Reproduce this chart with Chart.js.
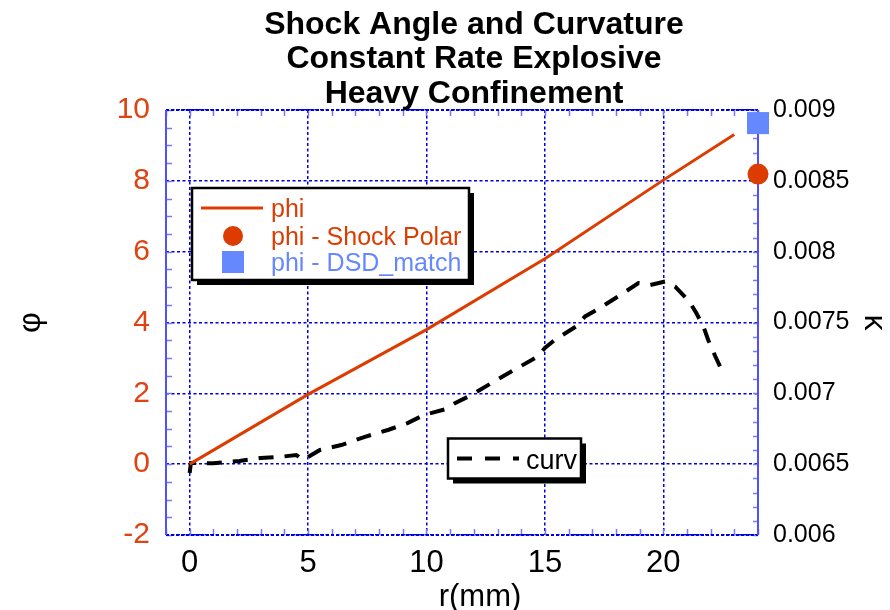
<!DOCTYPE html>
<html>
<head>
<meta charset="utf-8">
<title>Shock Angle and Curvature</title>
<script src="https://cdn.jsdelivr.net/npm/chart.js@4.4.1/dist/chart.umd.min.js"></script>
<style>
  html, body { margin: 0; padding: 0; background: #fff; }
  #wrap { position: relative; width: 890px; height: 610px; }
</style>
</head>
<body>
<div id="wrap"><canvas id="chart"></canvas></div>
<script>
// shock angle phi along the front, r in mm
const phiR = [0, 5, 10, 15, 20, 23.0];
const phiValues = [0, 1.97, 3.8, 5.8, 8.02, 9.31];

// single values at the charge edge
const polarR = [24];
const polarPhi = [8.19];
const dsdR = [24];
const dsdPhi = [9.63];

// front curvature kappa (right axis)
const curvR = [0, 0.05, 1.0, 2.1, 3.0, 3.9, 4.5, 4.8, 5.5, 6.4, 7.4, 8.4, 9.2, 9.9,
  10.8, 11.2, 11.9, 12.75, 13.7, 14.7, 15.0, 15.4, 16.3, 16.7, 17.3, 18.2, 18.95,
  19.45, 20.1, 20.5, 21.1, 21.4, 21.7, 21.9, 22.2, 22.4];
const curvValues = [0.006438, 0.006508, 0.006506, 0.006523, 0.006543, 0.006553,
  0.006565, 0.00653, 0.0066, 0.006635, 0.006693, 0.006743, 0.00679, 0.006848,
  0.006888, 0.00693, 0.006988, 0.007073, 0.007165, 0.00726, 0.00732, 0.007375,
  0.00747, 0.007543, 0.0076, 0.007695, 0.007778, 0.007765, 0.00779, 0.007753,
  0.007648, 0.007565, 0.00747, 0.007375, 0.00726, 0.007188];

const titleLines = ['Shock Angle and Curvature', 'Constant Rate Explosive', 'Heavy Confinement'];
const xTicks = [0, 5, 10, 15, 20];
const phiTicks = [-2, 0, 2, 4, 6, 8, 10];
const kappaTicks = [0.006, 0.0065, 0.007, 0.0075, 0.008, 0.0085, 0.009];

const FONT = "'Liberation Sans', Arial, Helvetica, sans-serif";
const PHI_COLOR = '#dc3c00';
const PHI_TEXT = '#dd4411';
const DSD_COLOR = '#6688ff';
const GRID_BLUE = '#0000dd';
const FRAME_BLUE = '#5050ff';

const toPoints = (xs, ys) => xs.map((x, i) => ({ x: x, y: ys[i] }));

// frame with inward minor ticks, drawn under the data
const frameTicks = {
  id: 'frameTicks',
  beforeDatasetsDraw(chart) {
    const { ctx, chartArea: a, scales: { x, y, y2 } } = chart;
    ctx.save();
    ctx.strokeStyle = '#7878ff';
    ctx.lineWidth = 1.5;
    ctx.beginPath();
    for (let v = -1; v <= 24; v++) {
      const px = Math.round(x.getPixelForValue(v)) + 0.5;
      ctx.moveTo(px, a.bottom); ctx.lineTo(px, a.bottom - 6);
      ctx.moveTo(px, a.top); ctx.lineTo(px, a.top + 6);
    }
    for (let i = -4; i <= 20; i++) {
      const py = Math.round(y.getPixelForValue(i / 2)) + 0.5;
      ctx.moveTo(a.left, py); ctx.lineTo(a.left + 6, py);
    }
    for (let i = 60; i <= 90; i++) {
      const py = Math.round(y2.getPixelForValue(i / 10000)) + 0.5;
      ctx.moveTo(a.right, py); ctx.lineTo(a.right - 5, py);
    }
    ctx.stroke();

    // top and bottom edges dotted, sides solid
    ctx.strokeStyle = GRID_BLUE;
    ctx.lineWidth = 2;
    ctx.setLineDash([3, 2]);
    ctx.beginPath();
    ctx.moveTo(a.left, a.top); ctx.lineTo(a.right, a.top);
    ctx.moveTo(a.left, a.bottom); ctx.lineTo(a.right, a.bottom);
    ctx.stroke();
    ctx.setLineDash([]);
    ctx.strokeStyle = FRAME_BLUE;
    ctx.beginPath();
    ctx.moveTo(a.left, a.top); ctx.lineTo(a.left, a.bottom);
    ctx.moveTo(a.right, a.top); ctx.lineTo(a.right, a.bottom);
    ctx.stroke();
    ctx.restore();
  }
};

function shadowBox(ctx, x, y, w, h) {
  ctx.fillStyle = '#000';
  ctx.fillRect(x + 5, y + 5, w, h);
  ctx.fillStyle = '#fff';
  ctx.fillRect(x, y, w, h);
  ctx.lineWidth = 2.5;
  ctx.strokeStyle = '#000';
  ctx.strokeRect(x, y, w, h);
}

// title, x-axis title and the two boxed legends
const annotations = {
  id: 'annotations',
  afterDatasetsDraw(chart) {
    const { ctx } = chart;
    const ds = chart.data.datasets;
    ctx.save();

    ctx.fillStyle = '#000';
    ctx.textAlign = 'center';
    ctx.textBaseline = 'alphabetic';
    ctx.font = 'bold 32px ' + FONT;
    titleLines.forEach((t, i) => ctx.fillText(t, 474, 33.5 + i * 34.5));

    ctx.font = '31px ' + FONT;
    ctx.fillText('r(mm)', 480, 606);

    // phi legend
    shadowBox(ctx, 192, 188, 277, 92);
    ctx.textAlign = 'left';
    ctx.font = '25px ' + FONT;
    ctx.strokeStyle = PHI_COLOR;
    ctx.lineWidth = 3;
    ctx.beginPath();
    ctx.moveTo(201, 208); ctx.lineTo(263, 208);
    ctx.stroke();
    ctx.fillStyle = PHI_COLOR;
    ctx.fillText(ds[0].label, 271, 216.5);
    ctx.beginPath();
    ctx.arc(233, 236, 10, 0, Math.PI * 2);
    ctx.fill();
    ctx.fillText(ds[1].label, 271, 245);
    ctx.fillStyle = DSD_COLOR;
    ctx.fillRect(222, 251, 22, 22);
    ctx.fillText(ds[2].label, 271, 271);

    // curv legend
    shadowBox(ctx, 448, 438.5, 133, 40);
    ctx.strokeStyle = '#000';
    ctx.lineWidth = 4;
    ctx.setLineDash([15, 13]);
    ctx.beginPath();
    ctx.moveTo(457, 458.5); ctx.lineTo(519, 458.5);
    ctx.stroke();
    ctx.setLineDash([]);
    ctx.fillStyle = '#000';
    ctx.font = '27px ' + FONT;
    ctx.fillText(ds[3].label, 526, 469);
    ctx.restore();
  }
};

const gridOpts = { color: GRID_BLUE, lineWidth: 1.5, drawTicks: false };
const dotted = { display: false, dash: [3, 2.5] };

new Chart(document.getElementById('chart'), {
  type: 'scatter',
  data: {
    datasets: [
      {
        label: 'phi',
        data: toPoints(phiR, phiValues),
        showLine: true,
        borderColor: PHI_COLOR,
        borderWidth: 3,
        pointRadius: 0,
        yAxisID: 'y'
      },
      {
        label: 'phi - Shock Polar',
        data: toPoints(polarR, polarPhi),
        pointStyle: 'circle',
        pointRadius: 10.5,
        backgroundColor: PHI_COLOR,
        borderWidth: 0,
        clip: false,
        yAxisID: 'y'
      },
      {
        label: 'phi - DSD_match',
        data: toPoints(dsdR, dsdPhi),
        pointStyle: 'rect',
        pointRadius: 15.6,
        backgroundColor: DSD_COLOR,
        borderWidth: 0,
        clip: false,
        yAxisID: 'y'
      },
      {
        label: 'curv',
        data: toPoints(curvR, curvValues),
        showLine: true,
        borderColor: '#000',
        borderWidth: 4,
        borderDash: [15, 11],
        pointRadius: 0,
        yAxisID: 'y2'
      }
    ]
  },
  options: {
    responsive: true,
    maintainAspectRatio: false,
    animation: false,
    layout: { padding: { top: 110, left: 0, right: 0, bottom: 0 } },
    plugins: {
      legend: { display: false },
      tooltip: { enabled: false },
      title: { display: false }
    },
    scales: {
      x: {
        type: 'linear',
        position: 'bottom',
        min: -1,
        max: 24,
        afterBuildTicks: s => { s.ticks = xTicks.map(v => ({ value: v })); },
        afterFit: s => { s.height = 75; },
        grid: gridOpts,
        border: dotted,
        ticks: { color: '#000', autoSkip: false, maxRotation: 0, font: { family: FONT, size: 31 }, padding: 10 }
      },
      y: {
        position: 'left',
        min: -2,
        max: 10,
        afterBuildTicks: s => { s.ticks = phiTicks.map(v => ({ value: v })); },
        afterFit: s => { s.width = 166; },
        grid: gridOpts,
        border: dotted,
        ticks: { color: PHI_TEXT, font: { family: FONT, size: 30 }, padding: 16 },
        title: {
          display: true,
          text: 'φ',
          color: '#000',
          font: { family: FONT, size: 32, lineHeight: 1 },
          padding: { top: 15, bottom: 0 }
        }
      },
      y2: {
        position: 'right',
        min: 0.006,
        max: 0.009,
        afterBuildTicks: s => { s.ticks = kappaTicks.map(v => ({ value: v })); },
        afterFit: s => { s.width = 132; },
        grid: { drawOnChartArea: false, drawTicks: false },
        border: { display: false },
        ticks: { color: '#000', font: { family: FONT, size: 25 }, padding: 15, callback: v => String(v) },
        title: {
          display: true,
          text: 'κ',
          color: '#000',
          font: { family: FONT, size: 32, lineHeight: 1 },
          padding: { top: 0, bottom: 0 }
        }
      }
    }
  },
  plugins: [frameTicks, annotations]
});
</script>
</body>
</html>
